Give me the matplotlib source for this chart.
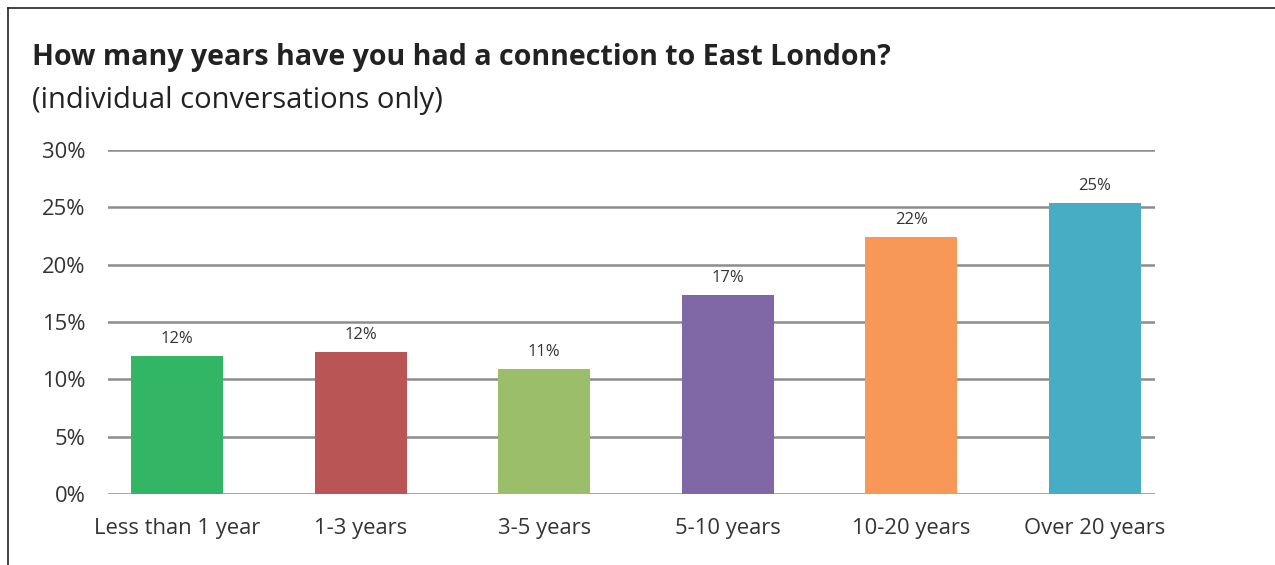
import matplotlib
matplotlib.use('Agg')
import matplotlib.pyplot as plt
from matplotlib.lines import Line2D

# Data
categories = ['Less than 1 year', '1-3 years', '3-5 years', '5-10 years',
              '10-20 years', 'Over 20 years']
values = [12.0, 12.4, 10.9, 17.35, 22.4, 25.35]
value_labels = ['12%', '12%', '11%', '17%', '22%', '25%']
yticks = [0, 5, 10, 15, 20, 25, 30]
ytick_labels = ['0%', '5%', '10%', '15%', '20%', '25%', '30%']

colors = ['#33b566', '#b95555', '#9bbe6a', '#7f68a5', '#f79858', '#47adc5']

plt.rcParams['font.family'] = ['Open Sans', 'DejaVu Sans']

W, H = 1275, 565
fig = plt.figure(figsize=(W / 100, H / 100), dpi=100)
ax = fig.add_axes([108 / W, 1 - 494 / H, (1155 - 108) / W, (494 - 150) / H])

x = range(len(categories))
ax.bar(x, values, width=0.5, color=colors, zorder=3)

for xi, v, lab in zip(x, values, value_labels):
    ax.text(xi, v + 0.8, lab, ha='center', va='bottom', fontsize=12,
            color='#333333', zorder=4)

ax.set_ylim(0, 30)
ax.set_xlim(-0.376, 5.327)
ax.set_yticks(yticks)
ax.set_yticklabels(ytick_labels, fontsize=15.8, color='#333333')
ax.set_xticks(list(x))
ax.set_xticklabels(categories, fontsize=15.8, color='#333333')
ax.tick_params(axis='both', length=0)
ax.tick_params(axis='y', pad=16)
ax.tick_params(axis='x', pad=17)
ax.grid(axis='y', color='#8c8c8c', linewidth=1.8, zorder=0)
ax.set_axisbelow(True)
for s in ax.spines.values():
    s.set_visible(False)

# Title and subtitle
fig.text(32 / W, 1 - 57 / H, 'How many years have you had a connection to East London?',
         fontsize=20.6, fontweight='bold', color='#222222', va='center', ha='left')
fig.text(32 / W, 1 - 100 / H, '(individual conversations only)',
         fontsize=21, color='#222222', va='center', ha='left')

# Frame lines (top and left)
fig.add_artist(Line2D([8 / W, 1], [1 - 8 / H, 1 - 8 / H], color='#222222', linewidth=1.2))
fig.add_artist(Line2D([8 / W, 8 / W], [0, 1 - 8 / H], color='#222222', linewidth=1.2))

fig.savefig('out.png', dpi=100, facecolor='white')
